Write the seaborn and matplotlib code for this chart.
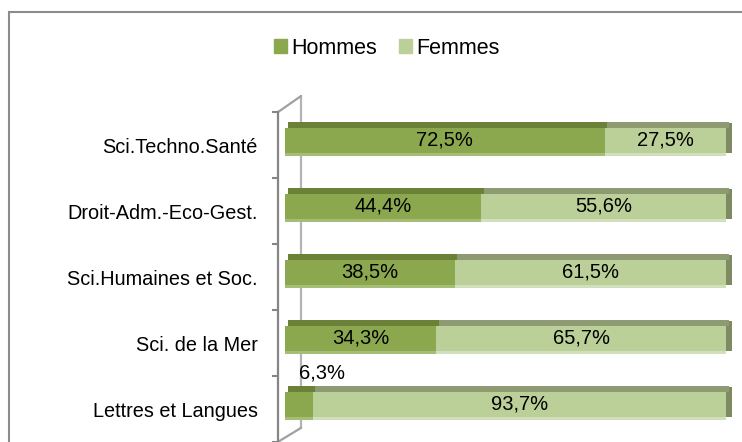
import numpy as np
import pandas as pd
import seaborn as sns
import matplotlib.pyplot as plt
from matplotlib.patches import Rectangle, Patch

# données (répartition hommes / femmes par domaine)
categories = ["Sci.Techno.Santé", "Droit-Adm.-Eco-Gest.", "Sci.Humaines et Soc.",
              "Sci. de la Mer", "Lettres et Langues"]
hommes = [72.5, 44.4, 38.5, 34.3, 6.3]
femmes = [27.5, 55.6, 61.5, 65.7, 93.7]

c_h, c_f = '#8ca84f', '#bbd098'
top_h, top_f = '#6b8138', '#8e9b72'
low_h, low_f = '#a6bd77', '#d2dfbc'
side = '#7e8a62'

sns.set_style('white')
plt.rcParams['font.family'] = ['Liberation Sans', 'DejaVu Sans']
plt.rcParams['text.color'] = 'black'
plt.rcParams['ytick.labelcolor'] = 'black'

df = pd.DataFrame({'cat': categories, 'Hommes': hommes, 'Femmes': femmes})
df['total'] = df['Hommes'] + df['Femmes']

fig = plt.figure(figsize=(7.42, 4.42), dpi=100)
ax = fig.add_axes([278 / 742, 0, (742 - 278) / 742, (442 - 96) / 442])

h = 0.39   # face avant
t = 0.09   # dessus (effet 3D)
b = 0.045  # liseré bas

sns.barplot(data=df, x='total', y='cat', orient='h', color=c_f, saturation=1,
            width=h, linewidth=0, ax=ax, zorder=3)
sns.barplot(data=df, x='Hommes', y='cat', orient='h', color=c_h, saturation=1,
            width=h, linewidth=0, ax=ax, zorder=4)

pos = np.arange(len(categories))
hv = np.array(hommes)
fv = np.array(femmes)
# faux 3D : dessus, liseré bas, côté droit
ax.barh(pos - h / 2 - t / 2, hv, left=0.6, height=t, color=top_h, zorder=4, linewidth=0)
ax.barh(pos - h / 2 - t / 2, fv, left=hv + 0.6, height=t, color=top_f, zorder=3, linewidth=0)
ax.barh(pos + h / 2 + b / 2, hv, height=b, color=low_h, zorder=4, linewidth=0)
ax.barh(pos + h / 2 + b / 2, fv, left=hv, height=b, color=low_f, zorder=3, linewidth=0)
ax.barh(pos - t / 2 + 0.01, 1.4, left=hv + fv, height=h + t - 0.03, color=side, zorder=2, linewidth=0)

# étiquettes de valeurs
fmt = lambda v: f"{v:.1f}%".replace('.', ',')
for i, (vh, vf) in enumerate(zip(hommes, femmes)):
    if vh >= 10:
        ax.text(vh / 2, i, fmt(vh), ha='center', va='center', fontsize=14.5, zorder=6)
    else:
        ax.text(vh / 2, i - 0.47, fmt(vh), ha='left', va='center', fontsize=14.5, zorder=6)
    ax.text(vh + vf / 2, i, fmt(vf), ha='center', va='center', fontsize=14.5, zorder=6)

ax.set_xlim(-1.59, 103.6)
ax.set_ylim(4.568, -0.674)
ax.set_xticks([])
ax.set_xlabel('')
ax.set_ylabel('')
ax.set_yticks(pos + 0.07, categories)
ax.set_yticks(np.arange(6) - 0.43, minor=True)
ax.tick_params(axis='y', which='major', length=0, pad=14.5, labelsize=14.3, labelcolor='black')
ax.tick_params(axis='y', which='minor', length=4, width=1.5, color='#868686', direction='out', left=True)
for s in ['top', 'right', 'bottom']:
    ax.spines[s].set_visible(False)
ax.spines['left'].set_bounds(-0.43, 4.568)
ax.spines['left'].set_color('#868686')
ax.spines['left'].set_linewidth(1.6)

# paroi du fond
ax.plot([3.63, 3.63], [-0.674, 4.356], color='#b4b4b4', lw=1.6, zorder=1, clip_on=False)
ax.plot([3.63, -1.59], [-0.674, -0.43], color='#a0a0a0', lw=1.6, zorder=1, clip_on=False)
ax.plot([3.63, -1.59], [4.356, 4.568], color='#a0a0a0', lw=1.6, zorder=1, clip_on=False)

handles = [Patch(color=c_h), Patch(color=c_f)]
fig.legend(handles, ['Hommes', 'Femmes'], loc='center', bbox_to_anchor=(387 / 742, 1 - 48 / 442),
           ncol=2, frameon=False, fontsize=15.5, handlelength=0.6, handleheight=0.6,
           handletextpad=0.2, columnspacing=1.0, labelcolor='black')

fig.add_artist(Rectangle((9 / 742, -0.1), 1.2, 1 - 12 / 442 + 0.1, transform=fig.transFigure,
                         fill=False, edgecolor='#8c8c8c', lw=1.5))

fig.savefig('out.png', dpi=100)
